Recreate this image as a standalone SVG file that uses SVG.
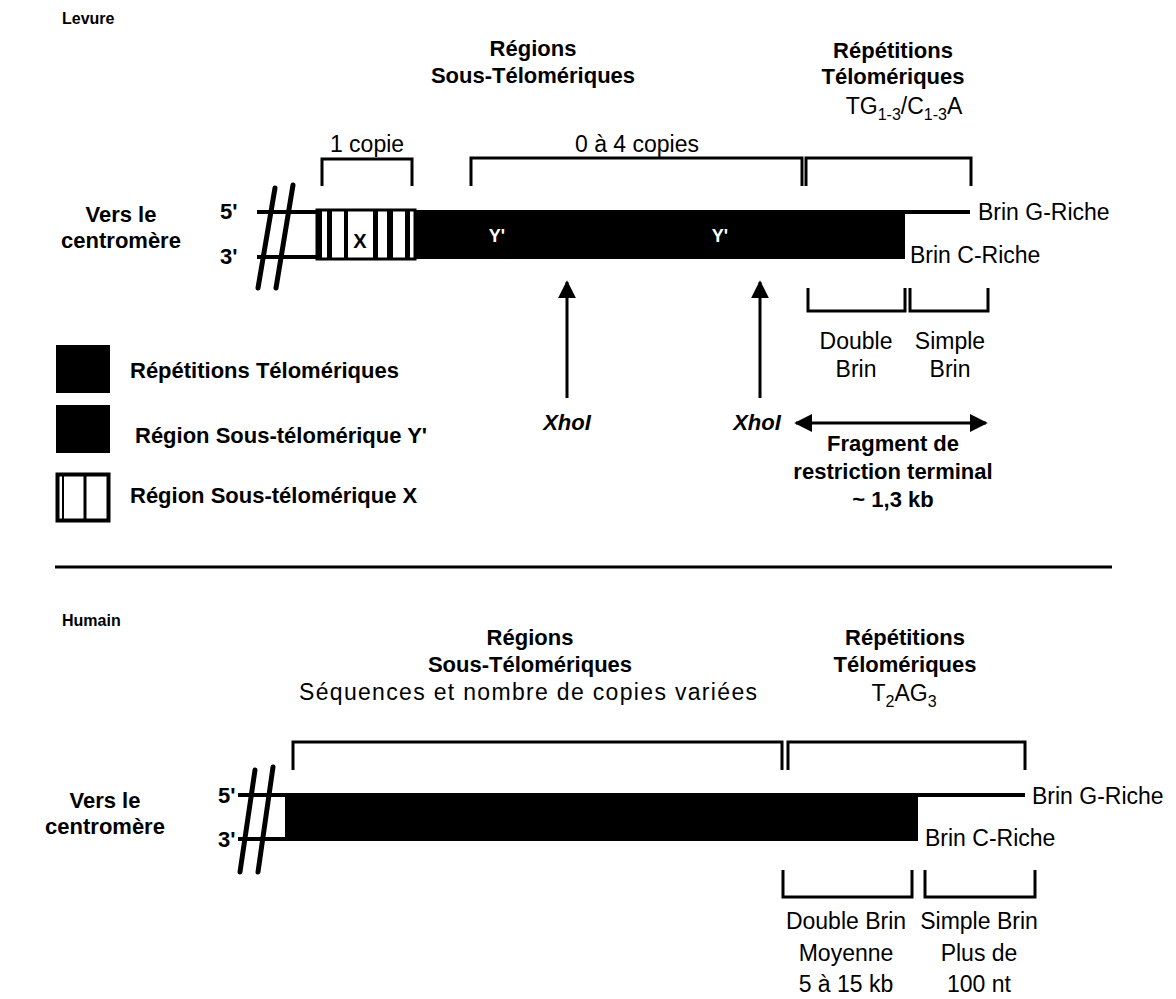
<svg xmlns="http://www.w3.org/2000/svg" width="1176" height="999" viewBox="0 0 1176 999">
<defs>
<style>
text{font-family:"Liberation Sans",Arial,sans-serif;fill:#000}
.b{font-weight:bold;font-size:22px}
.r{font-size:23px}
.t{font-weight:bold;font-size:16px}
.m{text-anchor:middle}
.br{fill:none;stroke:#000;stroke-width:3}
.st{stroke:#000;stroke-width:4;fill:none}
.sl{stroke:#000;stroke-width:5;stroke-linecap:round}
.ar{stroke:#000;stroke-width:3}
</style>
<marker id="ah" viewBox="0 0 10 10" refX="9" refY="5" markerWidth="6" markerHeight="6" markerUnits="strokeWidth" orient="auto-start-reverse">
<path d="M0,0 L10,5 L0,10 z" fill="#000"/>
</marker>
</defs>

<!-- ===== Levure ===== -->
<g id="titre-levure"><text class="t" x="62" y="24">Levure</text></g>

<g id="lev-regions-sous">
<text class="b m" x="533" y="56">Régions</text>
<text class="b m" x="533" y="83">Sous-Télomériques</text>
</g>
<g id="lev-repetitions">
<text class="b m" x="893" y="58">Répétitions</text>
<text class="b m" x="893" y="84">Télomériques</text>
<text class="r m" x="904" y="114" font-size="24">TG<tspan font-size="16" dy="6">1-3</tspan><tspan dy="-6">/C</tspan><tspan font-size="16" dy="6">1-3</tspan><tspan dy="-6">A</tspan></text>
</g>

<g id="lev-1copie">
<text class="r m" x="367" y="152">1 copie</text>
<path class="br" d="M322,186 V159 H412 V186"/>
</g>
<g id="lev-0a4copies">
<text class="r m" x="637" y="152">0 à 4 copies</text>
<path class="br" d="M471,186 V158 H802 V186"/>
</g>
<g id="lev-bracket-telo">
<path class="br" d="M806,186 V158 H971 V186"/>
</g>

<g id="lev-centromere">
<text class="b m" x="121" y="222">Vers le</text>
<text class="b m" x="121" y="248">centromère</text>
<text class="b" x="220" y="219">5'</text>
<text class="b" x="220" y="264">3'</text>
</g>

<g id="lev-chromosome">
<line class="st" x1="257" y1="212" x2="970" y2="212"/>
<line class="st" x1="257" y1="257" x2="317" y2="257"/>
<rect x="317" y="210" width="98" height="49" fill="#fff" stroke="#000" stroke-width="3"/>
<rect x="317" y="210" width="5" height="49" fill="#000"/>
<rect x="327" y="210" width="5" height="49" fill="#000"/>
<rect x="344" y="210" width="4" height="49" fill="#000"/>
<rect x="373" y="210" width="5" height="49" fill="#000"/>
<rect x="387" y="210" width="6" height="49" fill="#000"/>
<rect x="405" y="210" width="5" height="49" fill="#000"/>
<text class="m" x="360" y="248" font-weight="bold" font-size="20">X</text>
<rect x="415" y="210" width="490" height="49" fill="#000"/>
<text class="m" x="497" y="242" font-weight="bold" font-size="18" style="fill:#fff">Y'</text>
<text class="m" x="720" y="242" font-weight="bold" font-size="18" style="fill:#fff">Y'</text>
<line class="sl" x1="275" y1="188" x2="258" y2="288"/>
<line class="sl" x1="293" y1="185" x2="276" y2="288"/>
</g>

<g id="lev-brin-labels">
<text class="r" x="978" y="220">Brin G-Riche</text>
<text class="r" x="910" y="263">Brin C-Riche</text>
</g>

<g id="lev-double-brin">
<path class="br" d="M808,288 V311 H905 V288"/>
<text class="r m" x="856" y="349">Double</text>
<text class="r m" x="856" y="377">Brin</text>
</g>
<g id="lev-simple-brin">
<path class="br" d="M910,288 V311 H988 V288"/>
<text class="r m" x="950" y="349">Simple</text>
<text class="r m" x="950" y="377">Brin</text>
</g>

<g id="lev-xhoi-1">
<text class="b m" x="567" y="430" font-style="italic">XhoI</text>
</g>
<g id="lev-xhoi-2">
<text class="b m" x="757" y="430" font-style="italic">XhoI</text>
</g>
<g id="lev-fragment">
<text class="b m" x="893" y="451">Fragment de</text>
<text class="b m" x="893" y="479">restriction terminal</text>
<text class="b m" x="893" y="507">~ 1,3 kb</text>
</g>

<g id="legende">
<rect x="56" y="345" width="54" height="48" fill="#000"/>
<text class="b" x="130" y="378">Répétitions Télomériques</text>
<rect x="56" y="405" width="54" height="48" fill="#000"/>
<text class="b" x="135" y="443">Région Sous-télomérique Y'</text>
<rect x="57.5" y="474.5" width="51" height="46" fill="#fff" stroke="#000" stroke-width="4"/>
<line x1="63" y1="474" x2="63" y2="521" stroke="#000" stroke-width="2"/>
<line x1="85" y1="474" x2="85" y2="521" stroke="#000" stroke-width="3"/>
<text class="b" x="130" y="503">Région Sous-télomérique X</text>
</g>

<g id="connecteurs">
<line class="ar" x1="567" y1="398" x2="567" y2="282" marker-end="url(#ah)"/>
<line class="ar" x1="760" y1="398" x2="760" y2="282" marker-end="url(#ah)"/>
<line class="ar" x1="796" y1="423" x2="986" y2="423" marker-start="url(#ah)" marker-end="url(#ah)"/>
</g>

<g id="separateur">
<line x1="55" y1="567" x2="1112" y2="567" stroke="#000" stroke-width="3"/>
</g>

<!-- ===== Humain ===== -->
<g id="titre-humain"><text class="t" x="62" y="626">Humain</text></g>

<g id="hum-regions-sous">
<text class="b m" x="530" y="645">Régions</text>
<text class="b m" x="530" y="672">Sous-Télomériques</text>
<text class="r m" x="528" y="700" font-size="24" textLength="458" lengthAdjust="spacing">Séquences et nombre de copies variées</text>
<path class="br" d="M293,770 V742 H782 V770"/>
</g>
<g id="hum-repetitions">
<text class="b m" x="905" y="645">Répétitions</text>
<text class="b m" x="905" y="672">Télomériques</text>
<text class="r m" x="904" y="701" font-size="24">T<tspan font-size="16" dy="6">2</tspan><tspan dy="-6">AG</tspan><tspan font-size="16" dy="6">3</tspan></text>
<path class="br" d="M788,770 V742 H1025 V770"/>
</g>

<g id="hum-centromere">
<text class="b m" x="105" y="808">Vers le</text>
<text class="b m" x="105" y="834">centromère</text>
<text class="b" x="218" y="803">5'</text>
<text class="b" x="218" y="847">3'</text>
</g>

<g id="hum-chromosome">
<line class="st" x1="238" y1="795" x2="1025" y2="795"/>
<line class="st" x1="238" y1="839" x2="285" y2="839"/>
<rect x="285" y="793" width="633" height="48" fill="#000"/>
<line class="sl" x1="255" y1="770" x2="240" y2="872"/>
<line class="sl" x1="273" y1="767" x2="258" y2="872"/>
</g>

<g id="hum-brin-labels">
<text class="r" x="1032" y="804">Brin G-Riche</text>
<text class="r" x="925" y="846">Brin C-Riche</text>
</g>

<g id="hum-double-brin">
<path class="br" d="M783,870 V897 H912 V870"/>
<text class="r m" x="846" y="929">Double Brin</text>
<text class="r m" x="846" y="961">Moyenne</text>
<text class="r m" x="846" y="992">5 à 15 kb</text>
</g>
<g id="hum-simple-brin">
<path class="br" d="M925,870 V897 H1035 V870"/>
<text class="r m" x="979" y="929">Simple Brin</text>
<text class="r m" x="979" y="961">Plus de</text>
<text class="r m" x="979" y="992">100 nt</text>
</g>
</svg>
